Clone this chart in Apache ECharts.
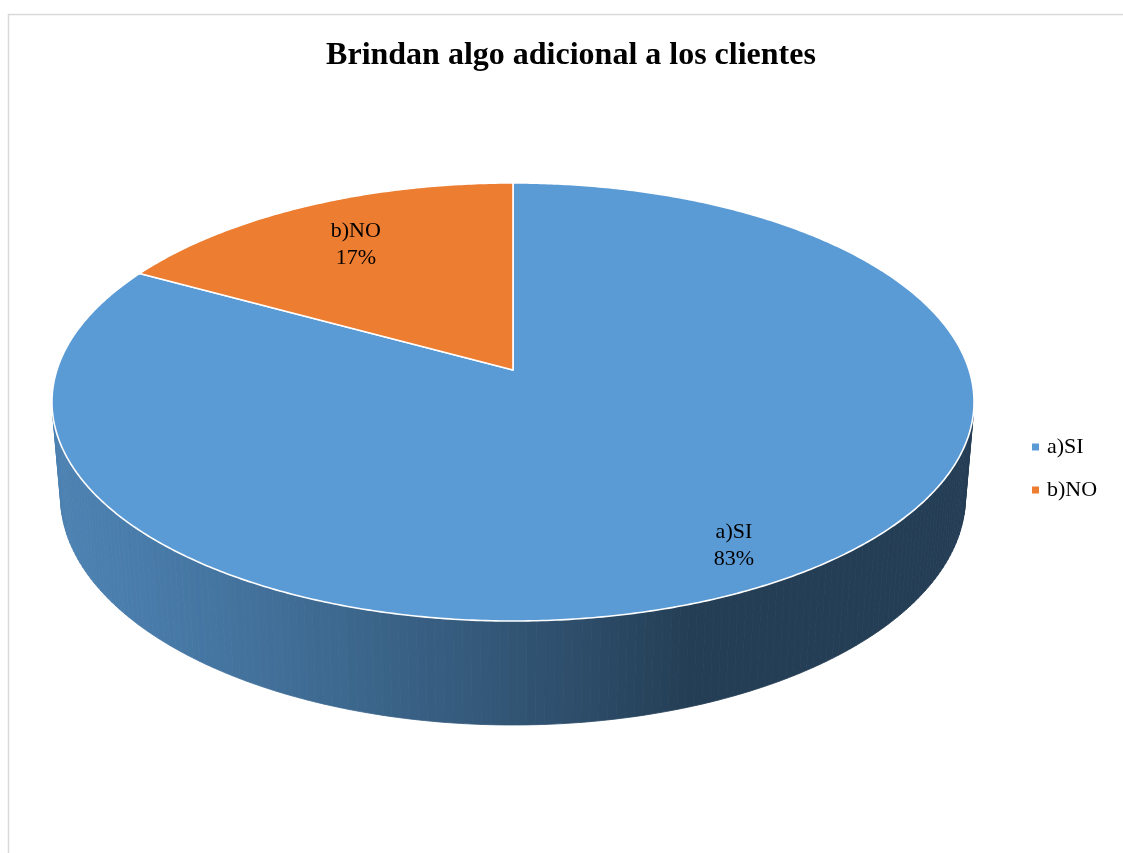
<!DOCTYPE html>
<html>
<head>
<meta charset="utf-8">
<script src="https://cdn.jsdelivr.net/npm/echarts@6/dist/echarts.min.js"></script>
<style>
html,body{margin:0;padding:0;background:#fff;}
#chart{width:1123px;height:853px;}
</style>
</head>
<body>
<div id="chart"></div>
<script>
// ---- data ----
const categories = ['a)SI', 'b)NO'];
const values = [83, 17];
const titleText = 'Brindan algo adicional a los clientes';

// ---- style ----
const colors = ['#5B9BD5', '#ED7D31'];
const labelRadius = [0.85, 0.74];
// perspective camera for the 3D pie
const cam = {cx: 513, cy: 370, k: 2757, D: 6.045, s: 0.470, c: 0.8827, h: 0.2368};
const light = {x: -0.94, y: -0.34, amb: 0.40, dif: 0.43};

const total = values.reduce((a, b) => a + b, 0);

function proj(th, r, z) {
  const X = r * Math.cos(th), Y = r * Math.sin(th);
  const depth = cam.D + Y * cam.c - z * cam.s;
  const up = Y * cam.s + z * cam.c;
  return [cam.cx + cam.k * X / depth, cam.cy - cam.k * up / depth];
}
function hexToRgb(h) {
  const n = parseInt(h.slice(1), 16);
  return [(n >> 16) & 255, (n >> 8) & 255, n & 255];
}
function shade(hex, th) {
  const d = Math.max(0, Math.cos(th) * light.x + Math.sin(th) * light.y);
  const b = light.amb + light.dif * d;
  const c = hexToRgb(hex).map(v => Math.round(v * b));
  return 'rgb(' + c.join(',') + ')';
}

function renderSlice(params, api) {
  const i = params.seriesIndex;
  let cum = 0;
  for (let j = 0; j < i; j++) cum += values[j];
  const start = Math.PI / 2 - 2 * Math.PI * cum / total;
  const end = start - 2 * Math.PI * values[i] / total;
  const children = [];
  const color = colors[i];

  // outer side (only the camera-facing part)
  const a0 = Math.asin(1 / (cam.D * cam.c));
  const vLo = -Math.PI + a0, vHi = -a0;
  for (let kk = -1; kk <= 1; kk++) {
    const lo = Math.max(end, vLo + 2 * Math.PI * kk);
    const hi = Math.min(start, vHi + 2 * Math.PI * kk);
    if (hi <= lo) continue;
    const n = Math.ceil((hi - lo) / (Math.PI / 180));
    const step = (hi - lo) / n;
    for (let m = 0; m < n; m++) {
      const t1 = lo + m * step, t2 = lo + (m + 1) * step;
      const col = shade(color, (t1 + t2) / 2);
      children.push({
        type: 'polygon',
        shape: {points: [proj(t1, 1, 0), proj(t2, 1, 0), proj(t2, 1, -cam.h), proj(t1, 1, -cam.h)]},
        style: {fill: col, stroke: col, lineWidth: 0.8}
      });
    }
  }

  // top face
  const pts = [proj(0, 0, 0)];
  const steps = Math.max(8, Math.ceil((start - end) / (Math.PI / 360)));
  for (let m = 0; m <= steps; m++) {
    pts.push(proj(start - (start - end) * m / steps, 1, 0));
  }
  children.push({
    type: 'polygon',
    shape: {points: pts},
    style: {fill: color, stroke: '#ffffff', lineWidth: 1.6, lineJoin: 'round'}
  });

  // label
  const mid = (start + end) / 2;
  const lp = proj(mid, labelRadius[i], 0);
  children.push({
    type: 'text',
    x: lp[0], y: lp[1],
    style: {
      text: categories[i] + '\n' + Math.round(values[i] / total * 100) + '%',
      fill: '#000',
      font: '22px "Liberation Serif"',
      lineHeight: 27,
      align: 'center',
      verticalAlign: 'middle'
    }
  });
  return {type: 'group', children: children};
}

const chart = echarts.init(document.getElementById('chart'), null, {renderer: 'canvas'});
chart.setOption({
  animation: false,
  backgroundColor: '#ffffff',
  title: {
    text: titleText,
    left: 566,
    textAlign: 'center',
    top: 35,
    textStyle: {fontFamily: 'Liberation Serif', fontWeight: 'bold', fontSize: 32, color: '#000'}
  },
  legend: {
    orient: 'vertical',
    left: 1032,
    top: 436,
    padding: 0,
    itemWidth: 7,
    itemHeight: 7,
    itemGap: 21,
    icon: 'rect',
    data: categories,
    selectedMode: false,
    textStyle: {fontFamily: 'Liberation Serif', fontSize: 22, color: '#000', padding: [0, 0, 0, 3]}
  },
  graphic: [{
    type: 'rect',
    shape: {x: 8.5, y: 14.5, width: 1300, height: 1000},
    style: {fill: 'none', stroke: '#d9d9d9', lineWidth: 1.5},
    silent: true
  }],
  series: categories.map((name, i) => ({
    type: 'custom',
    name: name,
    coordinateSystem: 'none',
    silent: true,
    itemStyle: {color: colors[i]},
    renderItem: renderSlice,
    data: [[values[i]]]
  }))
});
</script>
</body>
</html>
